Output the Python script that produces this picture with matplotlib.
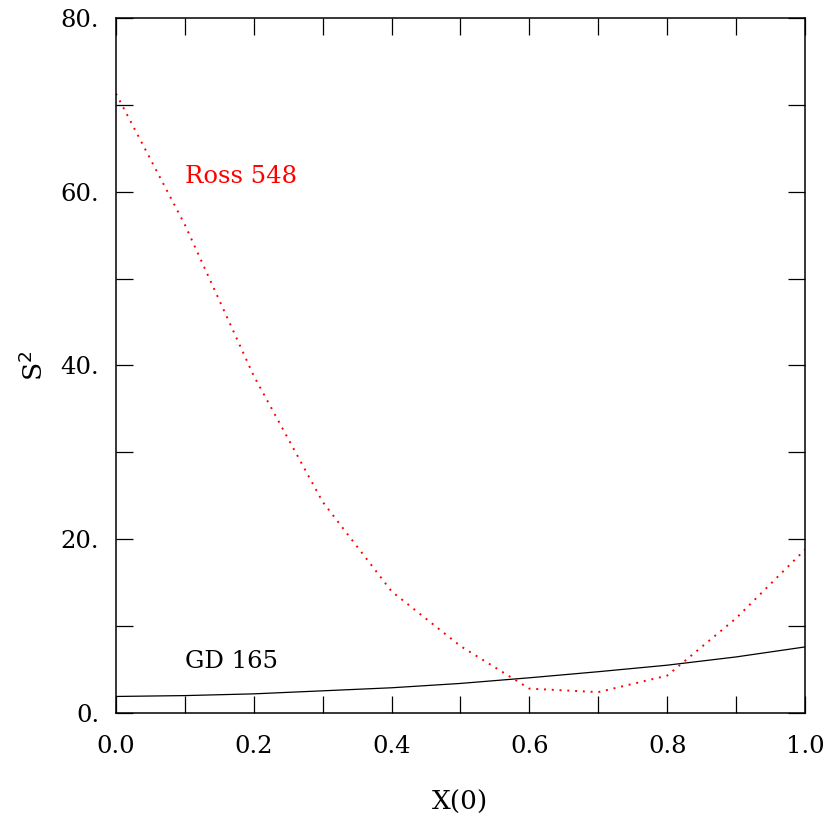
import numpy as np
import matplotlib.pyplot as plt
from matplotlib.ticker import MultipleLocator, FormatStrFormatter

# S^2 as a function of X(0) for two stars
x0 = [0.0, 0.1, 0.2, 0.3, 0.4, 0.5, 0.6, 0.7, 0.8, 0.9, 1.0]
s2_ross548 = [71.3, 56.2, 38.8, 24.3, 14.0, 7.7, 2.8, 2.4, 4.3, 10.9, 18.8]
s2_gd165 = [1.9, 2.0, 2.2, 2.55, 2.9, 3.4, 4.05, 4.75, 5.5, 6.45, 7.6]

plt.rcParams['font.family'] = ['DejaVu Serif']

fig = plt.figure(figsize=(8.29, 8.18), dpi=100)
ax = fig.add_axes([0.1399, 0.1284, 0.8311, 0.8496])

ax.plot(x0, s2_gd165, color='black', linewidth=0.9)
ax.plot(x0, s2_ross548, color='red', linewidth=1.4, linestyle=(0, (1, 3)))

ax.text(0.1, 61.8, 'Ross 548', color='red', fontsize=17.5, ha='left', va='center')
ax.text(0.1, 5.9, 'GD 165', color='black', fontsize=17.5, ha='left', va='center')

ax.set_xlim(0, 1)
ax.set_ylim(0, 80)
ax.xaxis.set_major_locator(MultipleLocator(0.2))
ax.xaxis.set_minor_locator(MultipleLocator(0.1))
ax.yaxis.set_major_locator(MultipleLocator(20))
ax.yaxis.set_minor_locator(MultipleLocator(10))
ax.xaxis.set_major_formatter(FormatStrFormatter('%.1f'))
ax.yaxis.set_major_formatter(FormatStrFormatter('%d.'))

ax.tick_params(which='both', direction='in', top=True, right=True,
               length=12, width=0.9, labelsize=17.5)
ax.tick_params(axis='x', which='major', pad=16)
ax.tick_params(axis='y', which='major', pad=12)
for sp in ax.spines.values():
    sp.set_linewidth(1.1)

ax.set_xlabel('X(0)', fontsize=19, labelpad=23)
ax.set_ylabel('S$^2$', fontsize=19, labelpad=9)

fig.savefig('out.png', dpi=100)
